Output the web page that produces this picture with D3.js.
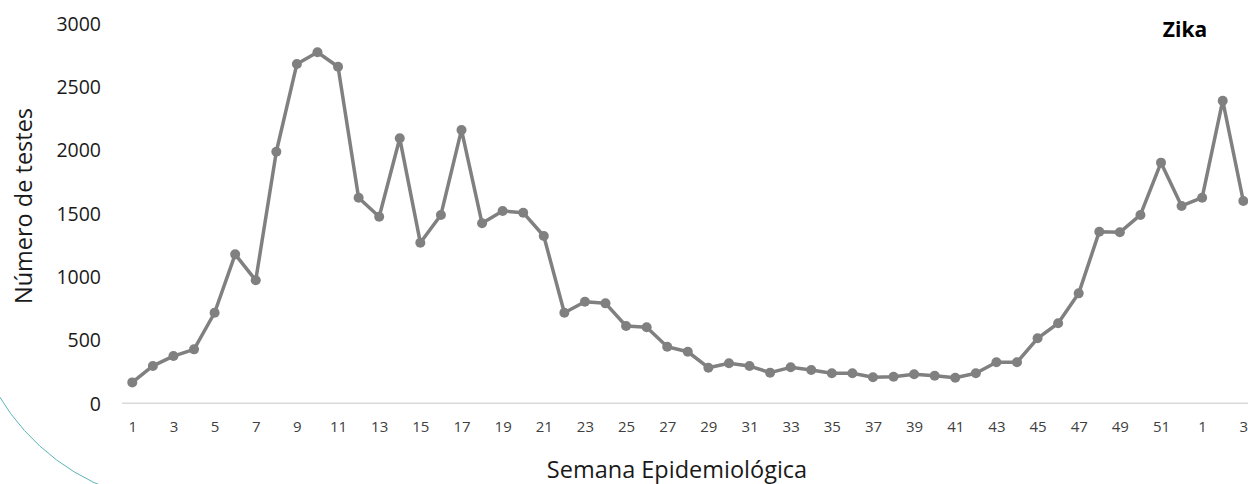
<!DOCTYPE html>
<html>
<head>
<meta charset="utf-8">
<script src="https://cdn.jsdelivr.net/npm/d3@7"></script>
<style>
  html, body { margin: 0; padding: 0; background: #fff; }
  svg { display: block; }
  text { font-family: "Open Sans", "Noto Sans", sans-serif; }
</style>
</head>
<body>
<svg id="chart" width="1248" height="484"></svg>
<script>
// Weekly number of Zika tests, epidemiological weeks 1–52 followed by weeks 1–3 of the next year
const weekLabels = [
  1, 2, 3, 4, 5, 6, 7, 8, 9, 10, 11, 12, 13, 14, 15, 16, 17, 18, 19, 20,
  21, 22, 23, 24, 25, 26, 27, 28, 29, 30, 31, 32, 33, 34, 35, 36, 37, 38, 39, 40,
  41, 42, 43, 44, 45, 46, 47, 48, 49, 50, 51, 52, 1, 2, 3
];
const testCounts = [
  165, 295, 373, 426, 715, 1176, 971, 1986, 2679, 2771,
  2657, 1623, 1473, 2092, 1268, 1487, 2158, 1421, 1518, 1505,
  1321, 715, 802, 789, 610, 600, 447, 407, 281, 316,
  294, 242, 284, 263, 237, 237, 205, 210, 229, 218,
  202, 237, 324, 324, 513, 632, 868, 1355, 1350, 1487,
  1900, 1558, 1623, 2389, 1597
];
const yTicks = [0, 500, 1000, 1500, 2000, 2500, 3000];

const svg = d3.select("#chart");

// Decorative teal arc in the lower-left corner
const arcCx = 189, arcCy = 283, arcR = 221;
const a0 = 155 * Math.PI / 180, a1 = 110 * Math.PI / 180;
const p0 = [arcCx + arcR * Math.cos(a0), arcCy + arcR * Math.sin(a0)];
const p1 = [arcCx + arcR * Math.cos(a1), arcCy + arcR * Math.sin(a1)];
svg.append("path")
  .attr("d", `M${p0[0]},${p0[1]} A${arcR},${arcR} 0 0 0 ${p1[0]},${p1[1]}`)
  .attr("fill", "none")
  .attr("stroke", "#5bb5b8")
  .attr("stroke-width", 1);

const idx = d3.range(testCounts.length);
const x = d3.scalePoint().domain(idx).range([132.3, 1243.3]);
const y = d3.scaleLinear().domain([0, 3000]).range([403.3, 23.3]);
const step = x.step();

// Category axis baseline
svg.append("line")
  .attr("x1", x(0) - step / 2).attr("x2", x(idx.length - 1) + step / 2)
  .attr("y1", y(0)).attr("y2", y(0))
  .attr("stroke", "#d9d9d9").attr("stroke-width", 1.5);

// X axis: label every other week
const xAxis = d3.axisBottom(x)
  .tickValues(idx.filter(i => i % 2 === 0))
  .tickFormat(i => weekLabels[i])
  .tickSize(0).tickPadding(0);
const gx = svg.append("g").attr("transform", `translate(0,${y(0)})`).call(xAxis);
gx.select(".domain").remove();
gx.selectAll("text")
  .attr("y", 29).attr("dy", 0)
  .attr("font-size", 15)
  .attr("fill", "#404040")
  .style("font-family", "\"Open Sans\", sans-serif");

// Y axis
const yAxis = d3.axisLeft(y).tickValues(yTicks).tickFormat(d3.format("d"))
  .tickSize(0).tickPadding(0);
const gy = svg.append("g").attr("transform", "translate(101,0)").call(yAxis);
gy.select(".domain").remove();
gy.selectAll("text")
  .attr("x", 0).attr("dy", "0.35em")
  .attr("font-size", 19.5)
  .attr("fill", "#1a1a1a")
  .style("font-family", "\"Open Sans\", sans-serif");

// Series line and markers
const line = d3.line().x((d, i) => x(i)).y(d => y(d));
svg.append("path")
  .datum(testCounts)
  .attr("d", line)
  .attr("fill", "none")
  .attr("stroke", "#808080")
  .attr("stroke-width", 3.5)
  .attr("stroke-linejoin", "round");

svg.append("g").selectAll("circle")
  .data(testCounts)
  .join("circle")
  .attr("cx", (d, i) => x(i))
  .attr("cy", d => y(d))
  .attr("r", 5)
  .attr("fill", "#808080");

// Axis titles and series title
svg.append("text")
  .attr("transform", "translate(32,206) rotate(-90)")
  .attr("text-anchor", "middle")
  .attr("font-size", 23.5)
  .attr("fill", "#1a1a1a")
  .text("Número de testes");

svg.append("text")
  .attr("x", 677).attr("y", 478)
  .attr("text-anchor", "middle")
  .attr("font-size", 23.5)
  .attr("fill", "#1a1a1a")
  .text("Semana Epidemiológica");

svg.append("text")
  .attr("x", 1185).attr("y", 37)
  .attr("text-anchor", "middle")
  .attr("font-size", 21)
  .attr("font-weight", "bold")
  .attr("fill", "#000")
  .text("Zika");
</script>
</body>
</html>
